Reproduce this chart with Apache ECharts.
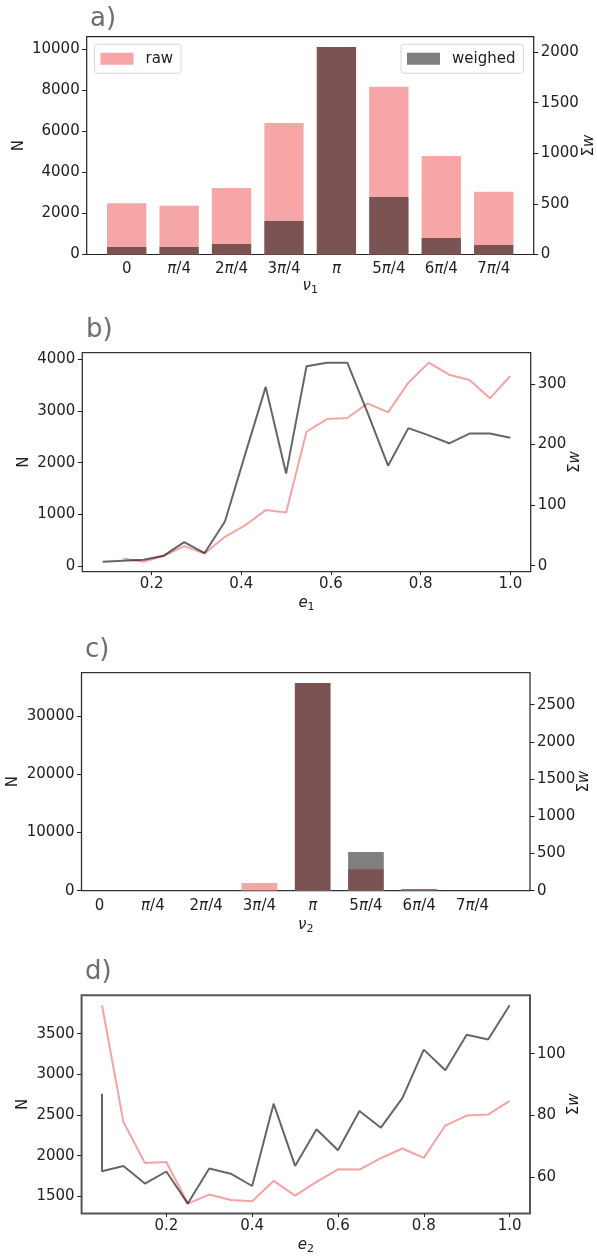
<!DOCTYPE html>
<html>
<head>
<meta charset="utf-8">
<script src="https://cdn.jsdelivr.net/npm/echarts@6/dist/echarts.min.js"></script>
<style>
html, body { margin: 0; padding: 0; background: #fff; }
#chart { width: 597px; height: 1258px; }
</style>
</head>
<body>
<div id="chart"></div>
<script>
// ---- data ----
const nuLabels = ['0', 'π/4', '2π/4', '3π/4', 'π', '5π/4', '6π/4', '7π/4'];
const nuPos = [0, 1, 2, 3, 4, 5, 6, 7];

// a) ν1 histogram
const nu1Raw = [2500, 2370, 3240, 6400, 10100, 8170, 4800, 3050];
const nu1Weighed = [75, 74, 104, 332, 2050, 569, 163, 94];

// b) e1 distribution
const e1Bins = [0.0909, 0.1364, 0.1818, 0.2273, 0.2727, 0.3182, 0.3636, 0.4091, 0.4545, 0.5000,
                0.5455, 0.5909, 0.6364, 0.6818, 0.7273, 0.7727, 0.8182, 0.8636, 0.9091, 0.9545, 1.0000];
const e1Raw = [null, 150, 85, 200, 387, 245, 567, 793, 1083, 1038,
               2598, 2843, 2863, 3147, 2973, 3546, 3933, 3700, 3598, 3243, 3675];
const e1Weighed = [6.6, 8.3, 9.9, 16.6, 39, 21, 73, 185, 295, 152,
                   329, 335, 335, 252, 165, 227, 215, 202, 218, 218, 211];

// c) ν2 histogram
const nu2Raw = [0, 0, 0, 1320, 35650, 3700, 120, 0];
const nu2Weighed = [0, 0, 0, 5, 2790, 520, 22, 0];

// d) e2 distribution
const e2Bins = [0.05, 0.10, 0.15, 0.20, 0.25, 0.30, 0.35, 0.40, 0.45, 0.50,
                0.55, 0.60, 0.65, 0.70, 0.75, 0.80, 0.85, 0.90, 0.95, 1.00];
const e2Raw = [3851, 2414, 1910, 1922, 1410, 1521, 1455, 1438, 1689, 1508,
               1676, 1832, 1828, 1968, 2088, 1972, 2370, 2493, 2505, 2673];
const e2WeighedX = [0.05, 0.05, 0.10, 0.15, 0.20, 0.25, 0.30, 0.35, 0.40, 0.45, 0.50,
                    0.55, 0.60, 0.65, 0.70, 0.75, 0.80, 0.85, 0.90, 0.95, 1.00];
const e2Weighed = [87.0, 61.9, 63.6, 57.9, 61.8, 51.4, 62.8, 61.1, 57.1, 83.8, 63.6,
                   75.5, 68.7, 81.4, 76.0, 85.6, 101.3, 94.6, 106.1, 104.6, 115.7];

// tick positions
const ticksA = [0, 2000, 4000, 6000, 8000, 10000];
const ticksAr = [0, 500, 1000, 1500, 2000];
const ticksB = [0, 1000, 2000, 3000, 4000];
const ticksBr = [0, 100, 200, 300];
const ticksC = [0, 10000, 20000, 30000];
const ticksCr = [0, 500, 1000, 1500, 2000, 2500];
const ticksD = [1500, 2000, 2500, 3000, 3500];
const ticksDr = [60, 80, 100];
const ticksE = [0.2, 0.4, 0.6, 0.8, 1.0];

// ---- styling ----
const FONT = 'DejaVu Sans';
const INK = '#222';
const PINK = '#f6a6a7';
const SHADE = 'rgba(0,0,0,0.5)';
const LINE_PINK = '#f7a3a3';
const LINE_GRAY = 'rgba(0,0,0,0.6)';

// matplotlib-like autoscale padding
function padExtent(vals, frac) {
  const v = vals.filter(x => x != null);
  const lo = Math.min(...v), hi = Math.max(...v);
  const p = (hi - lo) * frac;
  return [lo - p, hi + p];
}
const pairs = (xs, ys) => xs.map((x, i) => [x, ys[i]]).filter(p => p[1] != null);

const grids = [
  { left: 86.7, top: 36.7, width: 447, height: 217.8, borderColor: '#222', borderWidth: 1.2 },
  { left: 82.3, top: 352.7, width: 448.4, height: 219, borderColor: '#333', borderWidth: 1.3 },
  { left: 81.5, top: 672.7, width: 448.5, height: 218, borderColor: '#333', borderWidth: 1.3 },
  { left: 81.6, top: 995.3, width: 448.4, height: 218.2, borderColor: '#555', borderWidth: 2 }
].map(g => Object.assign({ show: true, backgroundColor: 'transparent', containLabel: false, outerBoundsMode: 'none' }, g));

const labelText = { fontSize: 15, color: INK, fontFamily: FONT };
const richName = {
  i: { fontSize: 15, fontStyle: 'italic', color: INK, fontFamily: FONT },
  n: { fontSize: 15, color: INK, fontFamily: FONT },
  s: { fontSize: 11, color: INK, fontFamily: FONT, padding: [8, 0, 0, 0] }
};

function xAxisCat(gridIndex, min, max, name, margin, nameGap) {
  return {
    type: 'value', gridIndex, min, max,
    splitLine: { show: false },
    axisLine: { show: false, onZero: false },
    axisTick: { show: false },
    axisLabel: Object.assign({
      customValues: nuPos, margin,
      formatter: v => nuLabels[v].replace('π', '{i|π}'),
      rich: { i: { fontSize: 15, fontStyle: 'italic', color: INK, fontFamily: FONT } }
    }, labelText),
    name, nameLocation: 'middle', nameGap,
    nameTextStyle: { rich: richName }
  };
}

function xAxisVal(gridIndex, ext, name, margin, nameGap) {
  return {
    type: 'value', gridIndex, min: ext[0], max: ext[1],
    splitLine: { show: false },
    axisLine: { show: false, onZero: false },
    axisTick: { show: true, length: 3.5, customValues: ticksE, lineStyle: { color: INK, width: 1 } },
    axisLabel: Object.assign({ customValues: ticksE, margin, formatter: v => v.toFixed(1) }, labelText),
    name, nameLocation: 'middle', nameGap,
    nameTextStyle: { rich: richName }
  };
}

function yAxis(gridIndex, position, ext, ticks, name, nameGap) {
  return {
    type: 'value', gridIndex, position, min: ext[0], max: ext[1],
    splitLine: { show: false },
    axisLine: { show: false, onZero: false },
    axisTick: { show: true, length: 4.5, customValues: ticks, lineStyle: { color: INK, width: 1 } },
    axisLabel: Object.assign({ customValues: ticks, margin: 7, formatter: v => String(v) }, labelText),
    name, nameLocation: 'middle', nameGap, nameRotate: 90, nameMoveOverlap: false,
    nameTextStyle: { rich: richName, fontSize: 15, color: INK, fontFamily: FONT }
  };
}

const xAxes = [
  xAxisCat(0, -0.7625, 7.7625, '{i|ν}{s|1}', 7.5, 22),
  xAxisVal(1, padExtent(e1Bins, 0.05), '{i|e}{s|1}', 4.5, 22),
  xAxisCat(2, -0.34, 8.08, '{i|ν}{s|2}', 7.5, 25),
  xAxisVal(3, padExtent(e2Bins, 0.05), '{i|e}{s|2}', 5, 22)
];

const sumW = '{n|Σ}{i|w}';
const yAxes = [
  yAxis(0, 'left', [0, Math.max(...nu1Raw) * 1.05], ticksA, 'N', 60),
  yAxis(0, 'right', [0, Math.max(...nu1Weighed) * 1.05], ticksAr, sumW, 48),
  yAxis(1, 'left', padExtent(e1Raw, 0.05), ticksB, 'N', 51),
  yAxis(1, 'right', padExtent(e1Weighed, 0.05), ticksBr, sumW, 37),
  yAxis(2, 'left', [0, Math.max(...nu2Raw) * 1.05], ticksC, 'N', 61),
  yAxis(2, 'right', [0, Math.max(...nu2Weighed) * 1.05], ticksCr, sumW, 47),
  yAxis(3, 'left', padExtent(e2Raw, 0.05), ticksD, 'N', 51),
  yAxis(3, 'right', padExtent(e2Weighed, 0.05), ticksDr, sumW, 37)
];

function barSeries(name, xi, yi, vals, color, width) {
  return {
    type: 'bar', name, xAxisIndex: xi, yAxisIndex: yi,
    data: pairs(nuPos, vals), barWidth: width, barGap: '-100%',
    itemStyle: { color }, silent: true
  };
}
function lineSeries(name, xi, yi, xs, ys, color) {
  return {
    type: 'line', name, xAxisIndex: xi, yAxisIndex: yi,
    data: pairs(xs, ys), symbol: 'none', showSymbol: false,
    lineStyle: { width: 2, color }, itemStyle: { color }, silent: true
  };
}

const series = [
  barSeries('raw', 0, 0, nu1Raw, PINK, '75%'),
  barSeries('weighed', 0, 1, nu1Weighed, SHADE, '75%'),
  lineSeries('raw e1', 1, 2, e1Bins, e1Raw, LINE_PINK),
  lineSeries('weighed e1', 1, 3, e1Bins, e1Weighed, LINE_GRAY),
  barSeries('raw ν2', 2, 4, nu2Raw, PINK, '67%'),
  barSeries('weighed ν2', 2, 5, nu2Weighed, SHADE, '67%'),
  lineSeries('raw e2', 3, 6, e2Bins, e2Raw, LINE_PINK),
  lineSeries('weighed e2', 3, 7, e2WeighedX, e2Weighed, LINE_GRAY)
];

const panelTitle = (text, left, top) => ({
  text, left, top,
  textStyle: { fontSize: 26, color: '#6e6e6e', fontWeight: 'normal', fontFamily: FONT }
});

const legendBox = (name, left) => ({
  data: [name], left, top: 44.3, orient: 'horizontal', icon: 'rect',
  itemWidth: 33, itemHeight: 12, selectedMode: false,
  backgroundColor: 'rgba(255,255,255,0.8)', borderColor: '#d8d8d8', borderWidth: 1, borderRadius: 3,
  padding: [7, 8, 7, 6],
  itemStyle: { borderWidth: 0 },
  textStyle: { fontSize: 15, color: INK, fontFamily: FONT, padding: [0, 0, 0, 7] }
});

const chart = echarts.init(document.getElementById('chart'), null, { renderer: 'canvas' });
chart.setOption({
  animation: false,
  backgroundColor: '#fff',
  textStyle: { fontFamily: FONT },
  title: [
    panelTitle('a)', 85, 1),
    panelTitle('b)', 81, 312),
    panelTitle('c)', 80, 632),
    panelTitle('d)', 80, 954)
  ],
  legend: [legendBox('raw', 94.5), legendBox('weighed', 401)],
  grid: grids,
  xAxis: xAxes,
  yAxis: yAxes,
  series
});
</script>
</body>
</html>
